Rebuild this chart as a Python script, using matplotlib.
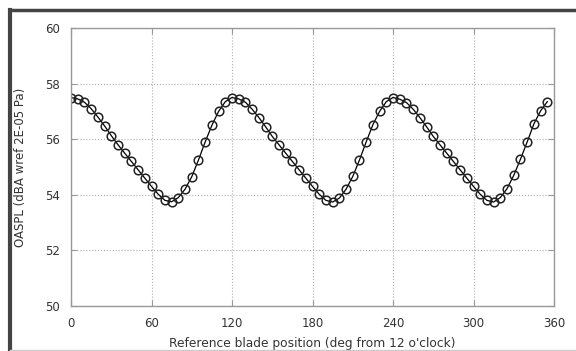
import matplotlib
matplotlib.use("Agg")
import matplotlib.pyplot as plt
from matplotlib.lines import Line2D

# blade position (deg) and OASPL
angle = list(range(0, 360, 5))
oaspl = [57.50, 57.45, 57.33, 57.10, 56.80, 56.48, 56.13, 55.80, 55.50, 55.20, 54.90, 54.60,
         54.30, 54.02, 53.80, 53.75, 53.90, 54.20, 54.65, 55.25, 55.90, 56.50, 57.00, 57.35,
         57.50, 57.45, 57.33, 57.08, 56.78, 56.45, 56.10, 55.80, 55.50, 55.20, 54.90, 54.60,
         54.30, 54.02, 53.80, 53.74, 53.88, 54.20, 54.66, 55.25, 55.90, 56.52, 57.00, 57.35,
         57.50, 57.44, 57.32, 57.08, 56.78, 56.45, 56.10, 55.80, 55.50, 55.20, 54.90, 54.60,
         54.30, 54.02, 53.80, 53.74, 53.90, 54.22, 54.70, 55.28, 55.90, 56.55, 57.02, 57.35]

xticks = [0, 60, 120, 180, 240, 300, 360]
yticks = [50, 52, 54, 56, 58, 60]

txt = "#333333"
fig = plt.figure(figsize=(5.76, 3.51), dpi=100)
ax = fig.add_axes([71/576, 1 - 306/351, (554 - 71)/576, (306 - 28)/351])

ax.plot(angle, oaspl, color="black", lw=0.9, marker="o", ms=6.2, mfc="none", mec="#222222", mew=1.1)

ax.set_xlim(0, 360)
ax.set_ylim(50, 60)
ax.set_xticks(xticks)
ax.set_yticks(yticks)
ax.grid(True, color="#b0b0b0", ls=":", lw=0.8)
ax.tick_params(direction="in", length=4, color="#999999", labelcolor=txt, labelsize=8.5,
               top=True, right=True, pad=8)
for s in ax.spines.values():
    s.set_color("#999999")
    s.set_linewidth(1.0)

ax.set_xlabel("Reference blade position (deg from 12 o'clock)", fontsize=8.8, color=txt, labelpad=5)
ax.set_ylabel("OASPL (dBA wref 2E-05 Pa)", fontsize=8.5, color=txt, labelpad=13)

# screenshot frame
fig.add_artist(Line2D([10/576, 1], [1 - 9.5/351] * 2, color="#444444", lw=2.5))
fig.add_artist(Line2D([10/576] * 2, [0, 1 - 9.5/351], color="#444444", lw=3))
fig.add_artist(Line2D([10/576, 1], [1.5/351] * 2, color="#cccccc", lw=1))

fig.savefig("out.png", dpi=100)
